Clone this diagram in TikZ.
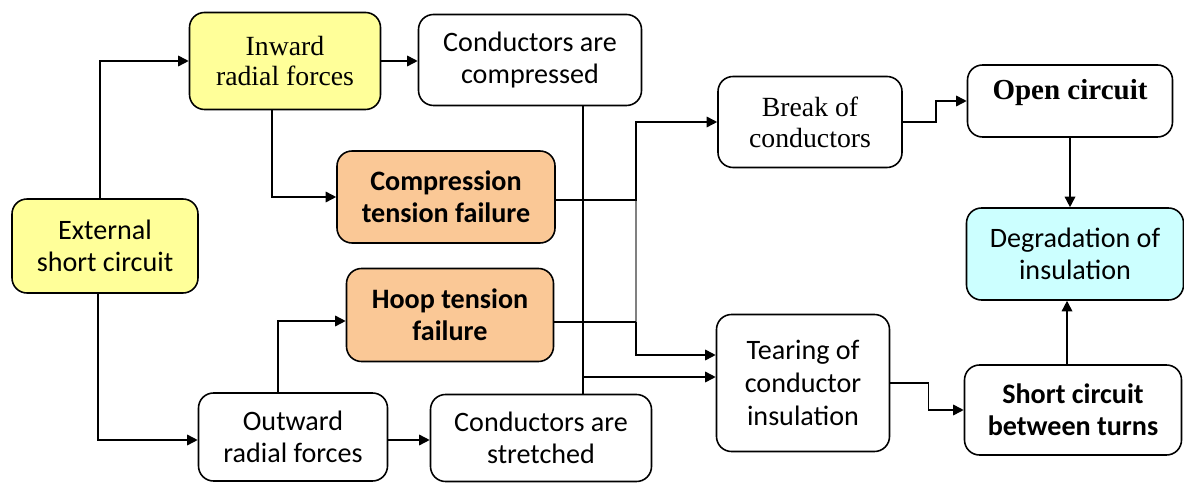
\documentclass[tikz,border=0pt]{standalone}
\usepackage{fontspec}
\setmainfont{Liberation Serif}
\newfontfamily\calibri{Carlito}
\usetikzlibrary{arrows.meta}
\definecolor{boxyellow}{RGB}{255,255,153}
\definecolor{boxorange}{RGB}{250,200,150}
\definecolor{boxcyan}{RGB}{204,255,255}

\begin{document}
\begin{tikzpicture}[line width=0.9pt,
  box/.style={draw, rounded corners=0.3cm, align=center, inner sep=2pt,
    font=\fontsize{15.8}{17.5}\selectfont},
  sbox/.style={box, font=\calibri\fontsize{16}{18}\selectfont},
  arr/.style={-{Triangle[length=6pt,width=6pt]}}]
  \useasboundingbox (0,0) rectangle (23.68,9.70);

  % causes
  \node[sbox, fill=boxyellow, minimum width=3.72cm, minimum height=1.88cm]
    (ext) at (2.10,4.78) {External\\short circuit};
  \node[box, fill=boxyellow, minimum width=3.82cm, minimum height=1.94cm]
    (inw) at (5.70,8.48) {Inward\\radial forces};
  \node[sbox, minimum width=3.78cm, minimum height=1.76cm]
    (outw) at (5.86,0.96) {Outward\\radial forces};

  % mechanical failures
  \node[sbox, minimum width=4.46cm, minimum height=1.82cm]
    (comp) at (10.60,8.50) {Conductors are\\compressed};
  \node[sbox, fill=boxorange, minimum width=4.36cm, minimum height=1.84cm,
    font=\calibri\bfseries\fontsize{16}{18}\selectfont]
    (ctf) at (8.92,5.76) {Compression\\tension failure};
  \node[sbox, fill=boxorange, minimum width=4.14cm, minimum height=1.86cm,
    font=\calibri\bfseries\fontsize{16}{18}\selectfont]
    (htf) at (9.00,3.40) {Hoop tension\\failure};
  \node[sbox, minimum width=4.42cm, minimum height=1.74cm]
    (str) at (10.82,0.94) {Conductors are\\stretched};

  % consequences
  \node[box, minimum width=3.68cm, minimum height=1.82cm]
    (brk) at (16.20,7.26) {Break of\\conductors};
  \node[sbox, minimum width=3.46cm, minimum height=2.74cm,
    font=\calibri\fontsize{16}{19}\selectfont]
    (tear) at (16.06,2.04) {Tearing of\\conductor\\insulation};
  \node[box, minimum width=4.10cm, minimum height=1.44cm, text depth=0.45cm,
    font=\bfseries\fontsize{16.5}{18}\selectfont]
    (open) at (21.40,7.68) {Open circuit};
  \node[sbox, minimum width=4.34cm, minimum height=1.80cm,
    font=\calibri\bfseries\fontsize{16}{18}\selectfont]
    (sc) at (21.46,1.50) {Short circuit\\between turns};
  \node[sbox, fill=boxcyan, minimum width=4.34cm, minimum height=1.84cm]
    (deg) at (21.50,4.62) {Degradation of\\insulation};

  % branch lines
  \coordinate (v) at (11.66,0);
  \coordinate (j) at (12.72,0);

  \draw[arr] ([xshift=-0.1cm]ext.north) |- (inw.west);
  \draw[arr] ([xshift=-0.14cm]ext.south) |- ([yshift=-0.06cm]outw.west);
  \draw[arr] (inw.east) -- (inw.east -| comp.west);
  \draw[arr] ([xshift=-0.26cm]inw.south) |- (ctf.west);
  \draw[arr] ([xshift=-0.3cm]outw.north) |- ([yshift=-0.12cm]htf.west);
  \draw[arr] ([yshift=-0.06cm]outw.east) -- ([yshift=-0.06cm]outw.east -| str.west);

  \draw (comp.south -| v) -- (str.north -| v);
  \draw[arr] (v |- 0,2.16) -- ([yshift=0.12cm]tear.west);

  \draw[gray] ([yshift=-0.06cm]ctf.east -| j) -- ([yshift=-0.14cm]htf.east -| j);
  \draw[arr] ([yshift=-0.06cm]ctf.east) -- ([yshift=-0.06cm]ctf.east -| j) |- (brk.west);
  \draw[line width=1.4pt] ([yshift=-0.14cm]htf.east) -- ([yshift=-0.14cm]htf.east -| j);
  \draw[arr] ([yshift=-0.14cm]htf.east -| j) |- ([yshift=0.56cm]tear.west);

  \draw[arr] (brk.east) -- ++(0.66,0) |- (open.west);
  \draw[arr] (open.south) -- (open.south |- deg.north);
  \draw[arr] (tear.east) -- ++(0.76,0) |- (sc.west);
  \draw[arr] ([xshift=-0.12cm]sc.north) -- ([xshift=-0.12cm]sc.north |- deg.south);
\end{tikzpicture}
\end{document}
